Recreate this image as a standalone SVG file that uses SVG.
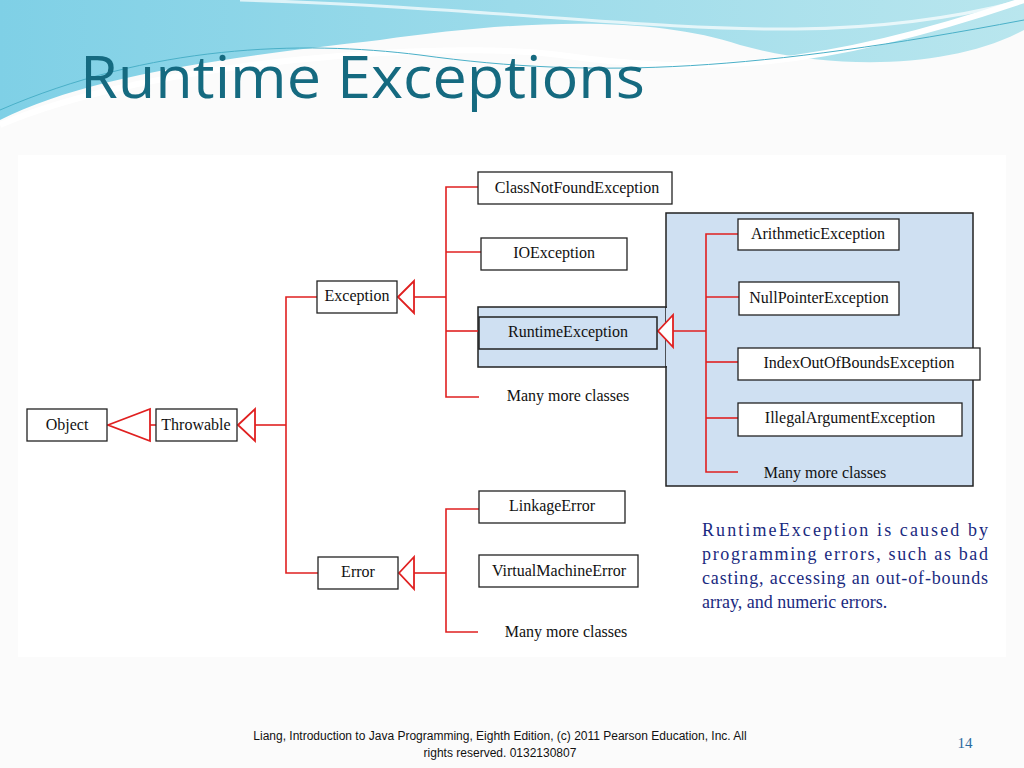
<svg xmlns="http://www.w3.org/2000/svg" width="1024" height="768" viewBox="0 0 1024 768">
<defs>
<style>
.b{fill:#fff;stroke:#222;stroke-width:1.3}
.bb{fill:#cfe0f2;stroke:#222;stroke-width:1.5}
.t{font-family:"Liberation Serif",serif;font-size:16px;fill:#111;text-anchor:middle}
.l{fill:none;stroke:#e02020;stroke-width:1.6}
.tri{fill:#fff;stroke:#e02020;stroke-width:1.8}
.p{font-family:"Liberation Serif",serif;font-size:18px;fill:#1a2a80}
</style>
<linearGradient id="g1" x1="0" y1="0" x2="1" y2="0"><stop offset="0" stop-color="#7fd0e6"/><stop offset="1" stop-color="#b9e6ee"/></linearGradient>
</defs>
<rect width="1024" height="768" fill="#fbfbfb"/>
<path d="M0,0 H1024 V30 C950,70 830,70 740,45 C650,15 520,20 380,40 C200,60 80,80 0,120 Z" fill="url(#g1)"/>
<path d="M0,125 C150,60 450,40 560,55 C700,75 820,70 1024,0" fill="none" stroke="#fff" stroke-width="6"/>
<path d="M0,110 C150,45 300,40 420,55 C600,80 760,70 1024,20" fill="none" stroke="#4ab0c8" stroke-width="1"/>
<path d="M240,0 C600,10 800,60 1024,0" fill="none" stroke="#fff" stroke-width="3" opacity="0.7"/>
<text x="80" y="98" font-family="'Open Sans',sans-serif" font-size="58" fill="#156a80" textLength="565" lengthAdjust="spacingAndGlyphs">Runtime Exceptions</text>
<rect x="18" y="155" width="988" height="502" fill="#fff"/>

<g id="panel"><rect x="666" y="213" width="307" height="273" class="bb"/><rect x="478" y="307" width="188" height="60" class="bb"/><rect x="666" y="308" width="2" height="58" fill="#cfe0f2"/></g>

<g id="connectors">
<line class="l" x1="150" y1="425" x2="156" y2="425"/>
<polygon class="tri" points="108,425 150,409 150,441"/>
<polygon class="tri" points="238,425 255,409 255,441"/>
<polyline class="l" points="255,425 286,425"/>
<polyline class="l" points="317,297 286,297 286,573 318,573"/>
<polygon class="tri" points="398,297 414,281 414,313"/>
<line class="l" x1="414" y1="297" x2="446" y2="297"/>
<polyline class="l" points="478,187 446,187 446,397 479,397"/>
<line class="l" x1="446" y1="252" x2="481" y2="252"/>
<line class="l" x1="446" y1="331" x2="478" y2="331"/>
<polygon class="tri" points="399,573 414,557 414,589"/>
<line class="l" x1="414" y1="573" x2="446" y2="573"/>
<polyline class="l" points="479,509 446,509 446,632 478,632"/>
<polygon class="tri" points="658,331 673,315 673,347"/>
<line class="l" x1="673" y1="331" x2="706" y2="331"/>
<polyline class="l" points="738,234 706,234 706,472 738,472"/>
<line class="l" x1="706" y1="297" x2="739" y2="297"/>
<line class="l" x1="706" y1="362" x2="738" y2="362"/>
<line class="l" x1="706" y1="418" x2="738" y2="418"/>
</g>

<g id="object"><rect class="b" x="27" y="409" width="80" height="32"/><text class="t" x="67" y="430">Object</text></g>
<g id="throwable"><rect class="b" x="156" y="409" width="81" height="32"/><text class="t" x="196" y="430">Throwable</text></g>
<g id="exception"><rect class="b" x="317" y="281" width="80" height="32"/><text class="t" x="357" y="301">Exception</text></g>
<g id="error"><rect class="b" x="318" y="557" width="80" height="32"/><text class="t" x="358" y="577">Error</text></g>
<g id="classnotfound"><rect class="b" x="478" y="172" width="194" height="32"/><text class="t" x="577" y="193">ClassNotFoundException</text></g>
<g id="ioexception"><rect class="b" x="481" y="238" width="146" height="32"/><text class="t" x="554" y="258">IOException</text></g>
<g id="runtime"><rect class="bb" x="479" y="317" width="178" height="32" stroke-width="1.3"/><text class="t" x="568" y="337">RuntimeException</text></g>
<g id="more1"><text class="t" x="568" y="401">Many more classes</text></g>
<g id="linkage"><rect class="b" x="479" y="491" width="146" height="32"/><text class="t" x="552" y="511">LinkageError</text></g>
<g id="vm"><rect class="b" x="479" y="555" width="159" height="32"/><text class="t" x="559" y="576">VirtualMachineError</text></g>
<g id="more2"><text class="t" x="566" y="637">Many more classes</text></g>
<g id="arith"><rect class="b" x="738" y="219" width="161" height="31"/><text class="t" x="818" y="239">ArithmeticException</text></g>
<g id="nullp"><rect class="b" x="739" y="282" width="160" height="33"/><text class="t" x="819" y="303">NullPointerException</text></g>
<g id="index"><rect class="b" x="738" y="348" width="242" height="32"/><text class="t" x="859" y="368">IndexOutOfBoundsException</text></g>
<g id="illegal"><rect class="b" x="738" y="403" width="224" height="33"/><text class="t" x="850" y="423">IllegalArgumentException</text></g>
<g id="more3"><text class="t" x="825" y="478">Many more classes</text></g>

<g id="note">
<text class="p" x="702" y="536" textLength="286">RuntimeException is caused by</text>
<text class="p" x="702" y="560" textLength="286">programming errors, such as bad</text>
<text class="p" x="702" y="584" textLength="286">casting, accessing an out-of-bounds</text>
<text class="p" x="702" y="608">array, and numeric errors.</text>
</g>
<text x="500" y="740" font-family="'Liberation Sans',sans-serif" font-size="12" fill="#111" text-anchor="middle">Liang, Introduction to Java Programming, Eighth Edition, (c) 2011 Pearson Education, Inc. All</text>
<text x="500" y="757" font-family="'Liberation Sans',sans-serif" font-size="12" fill="#111" text-anchor="middle">rights reserved. 0132130807</text>
<text x="965" y="748" font-family="'Liberation Serif',serif" font-size="15" fill="#2a6aa0" text-anchor="middle">14</text>
</svg>
